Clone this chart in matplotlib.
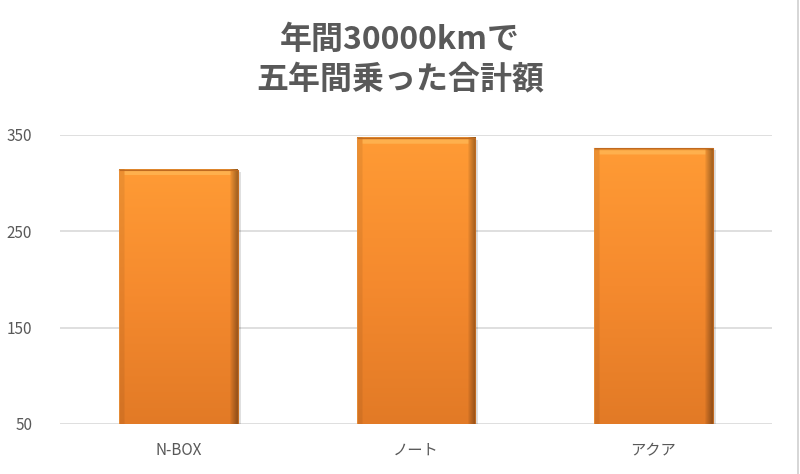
import numpy as np
import matplotlib
matplotlib.use("Agg")
import matplotlib.pyplot as plt
from matplotlib.colors import LinearSegmentedColormap

plt.rcParams["font.family"] = ["Noto Sans CJK JP", "DejaVu Sans"]

# data
categories = ["N-BOX", "ノート", "アクア"]
values = [314, 347, 336]
y_ticks = [50, 150, 250, 350]
title = "年間30000kmで\n五年間乗った合計額"

TEXT = "#595959"
GRID = "#D9D9D9"

fig = plt.figure(figsize=(8, 4.74), dpi=100)
ax = fig.add_axes([0.075, 0.1055, 0.89, 0.6097])

x = np.arange(len(categories))
width = 0.5
bars = ax.bar(x, values, width=width, bottom=0, color="none", zorder=3)

# vertical gradient: lighter orange top, darker at bottom
cmap = LinearSegmentedColormap.from_list("org", ["#E27A26", "#F58A2E", "#FF9B35"])
grad = np.linspace(0, 1, 256).reshape(-1, 1)
# horizontal shading for a bit of bevel on the sides
side = np.ones((1, 64))
side[0, :3] = 0.93
side[0, -4:] = [0.9, 0.82, 0.74, 0.66]

for b, v in zip(bars, values):
    x0 = b.get_x()
    x1 = x0 + b.get_width()
    rgba = cmap(grad)[:, :, :3] * side[:, :, None]
    # light band near the top (bevel)
    rgba[-6:-2, 3:-4] = rgba[-6:-2, 3:-4] * 0.55 + np.array([1.0, 0.8, 0.42]) * 0.45
    rgba[-2:, :] = rgba[-2:, :] * 0.88
    # shadow
    ax.bar(b.get_x() + b.get_width() / 2 + 0.012, v - 50, width=width, bottom=50 - 2,
           color="#000000", alpha=0.12, zorder=2, linewidth=0)
    ax.imshow(rgba, extent=(x0, x1, 50, v), origin="lower", aspect="auto", zorder=3,
              interpolation="bilinear")
    ax.plot([x0, x1, x1], [v, v, 50], color="#C06A20", lw=0.8, zorder=4)
    ax.plot([x0, x0], [50, v], color="#E8903A", lw=0.6, zorder=4)

ax.set_xlim(-0.5, len(categories) - 0.5)
ax.set_ylim(50, 350)
ax.set_yticks(y_ticks)
ax.set_xticks(x)
ax.set_xticklabels(categories)
ax.yaxis.grid(True, color=GRID, lw=1.2, zorder=0)
ax.set_axisbelow(True)
for s in ax.spines.values():
    s.set_visible(False)
ax.tick_params(axis="both", length=0, colors=TEXT, labelsize=11)
ax.tick_params(axis="x", pad=13)
ax.tick_params(axis="y", pad=20)

fig.text(0.5, 0.874, title, ha="center", va="center", fontsize=23, fontweight="bold",
         color=TEXT, linespacing=1.3)

# right edge of the sheet
fig.add_artist(plt.Line2D([0.9975, 0.9975], [0, 1], color="#D0D0D0", lw=1.2))

fig.savefig("out.png", dpi=100, facecolor="white")
